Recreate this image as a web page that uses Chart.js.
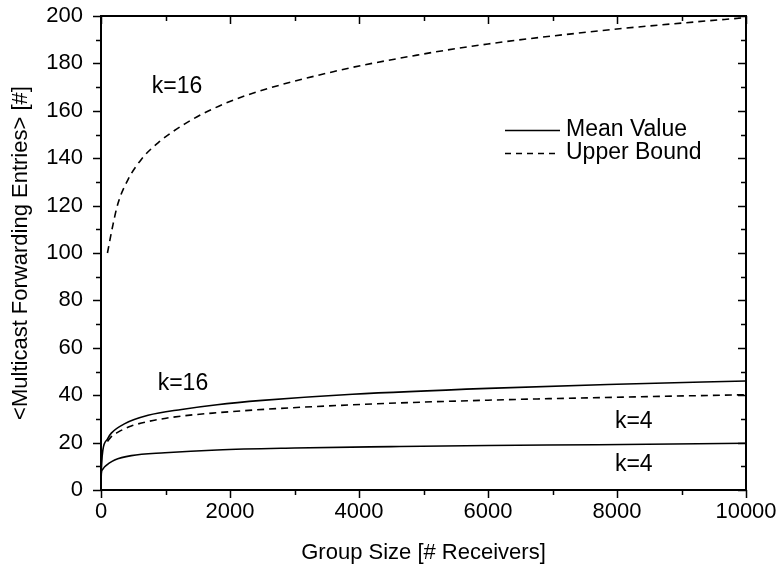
<!DOCTYPE html>
<html>
<head>
<meta charset="utf-8">
<script src="https://cdn.jsdelivr.net/npm/chart.js@4/dist/chart.umd.min.js"></script>
<style>
  html, body { margin: 0; padding: 0; background: #fff; }
  #wrap { width: 782px; height: 573px; }
</style>
</head>
<body>
<div id="wrap"><canvas id="fwdChart"></canvas></div>
<script>
// mean number of forwarding entries, k=16
const meanK16X = [0, 1, 10, 30, 100, 160, 370, 730, 1250, 1800, 2500, 3900, 6000, 8000, 10000];
const meanK16Y = [0, 3, 11, 17, 21.5, 24, 28, 31.5, 34, 36, 37.8, 40.4, 42.9, 44.6, 46];
// mean number of forwarding entries, k=4
const meanK4X = [0, 1, 5, 20, 57, 120, 212, 470, 990, 1800, 3000, 4500, 6000, 7700, 10000];
const meanK4Y = [0, 2, 7, 8.5, 9.8, 11.2, 12.7, 14.5, 15.7, 16.9, 17.7, 18.3, 18.8, 19.1, 19.7];
// upper bounds
const boundK16X = [100, 186, 264, 419, 625, 884, 1300, 1710, 2230, 3600, 4900, 6000, 8000, 9000, 10000];
const boundK16Y = [100, 112, 121, 131, 139.5, 146.5, 154.5, 160.5, 166.3, 176.5, 183.5, 188.2, 194.5, 197, 199.3];
const boundK4X = [100, 160, 264, 470, 990, 1800, 3860, 6000, 7940, 10000];
const boundK4Y = [20.5, 22.5, 24.4, 27, 30.2, 32.6, 35.9, 37.9, 39.1, 40.2];

const xTicks = [0, 2000, 4000, 6000, 8000, 10000];
const yTicks = [0, 20, 40, 60, 80, 100, 120, 140, 160, 180, 200];

// curve labels, in data coordinates
const curveLabels = [
  { text: 'k=16', x: 1180, y: 170 },
  { text: 'k=16', x: 1270, y: 45 },
  { text: 'k=4', x: 8260, y: 29 },
  { text: 'k=4', x: 8260, y: 10.5 }
];

const FONT = '"Liberation Sans", Arial, sans-serif';

function pts(xs, ys) {
  return xs.map((x, i) => ({ x: x, y: ys[i] }));
}

function line(label, xs, ys, dashed) {
  return {
    label: label,
    data: pts(xs, ys),
    borderColor: '#000',
    borderWidth: 1.6,
    borderDash: dashed ? [7, 5] : [],
    pointRadius: 0,
    fill: false,
    showLine: true,
    cubicInterpolationMode: 'monotone'
  };
}

// fixed axis box sizes, no extra room for overhanging labels
function fitX(s) {
  s.height = 83;
  s.paddingLeft = 0;
  s.paddingRight = 0;
}
function fitY(s) {
  s.width = 101;
  s.paddingTop = 0;
  s.paddingBottom = 0;
}

// frame, tick marks, curve labels and legend
const decorations = {
  id: 'decorations',
  afterDraw(chart) {
    const ctx = chart.ctx;
    const a = chart.chartArea;
    const xs = chart.scales.x;
    const ys = chart.scales.y;
    ctx.save();
    ctx.strokeStyle = '#000';
    ctx.lineWidth = 2;
    ctx.strokeRect(a.left, a.top, a.right - a.left, a.bottom - a.top);

    ctx.lineWidth = 1.5;
    ctx.beginPath();
    for (let v = 0; v <= 10000; v += 1000) {
      const px = Math.round(xs.getPixelForValue(v)) + 0.5;
      const len = v % 2000 === 0 ? 8 : 5;
      ctx.moveTo(px, a.bottom); ctx.lineTo(px, a.bottom + len);
      ctx.moveTo(px, a.top); ctx.lineTo(px, a.top + len);
    }
    for (let v = 0; v <= 200; v += 10) {
      const py = Math.round(ys.getPixelForValue(v)) + 0.5;
      const len = v % 20 === 0 ? 8 : 5;
      ctx.moveTo(a.left, py); ctx.lineTo(a.left - len, py);
      ctx.moveTo(a.right, py); ctx.lineTo(a.right - len, py);
    }
    ctx.stroke();

    ctx.fillStyle = '#000';
    ctx.font = '23px ' + FONT;
    ctx.textAlign = 'center';
    ctx.textBaseline = 'middle';
    curveLabels.forEach(l => {
      ctx.fillText(l.text, xs.getPixelForValue(l.x), ys.getPixelForValue(l.y));
    });

    // legend
    const items = [
      { text: 'Mean Value', dash: [] },
      { text: 'Upper Bound', dash: [6, 5] }
    ];
    ctx.textAlign = 'left';
    ctx.lineWidth = 1.4;
    items.forEach((it, i) => {
      const y = 130 + i * 23;
      ctx.setLineDash(it.dash);
      ctx.beginPath();
      ctx.moveTo(505, y + 0.5);
      ctx.lineTo(560, y + 0.5);
      ctx.stroke();
      ctx.setLineDash([]);
      ctx.fillText(it.text, 566, y);
    });
    ctx.restore();
  }
};

new Chart(document.getElementById('fwdChart'), {
  type: 'scatter',
  data: {
    datasets: [
      line('Mean Value k=16', meanK16X, meanK16Y, false),
      line('Mean Value k=4', meanK4X, meanK4Y, false),
      line('Upper Bound k=16', boundK16X, boundK16Y, true),
      line('Upper Bound k=4', boundK4X, boundK4Y, true)
    ]
  },
  options: {
    responsive: true,
    maintainAspectRatio: false,
    animation: false,
    layout: { autoPadding: false, padding: { top: 16, right: 36, left: 0, bottom: 0 } },
    plugins: {
      legend: { display: false },
      tooltip: { enabled: false }
    },
    scales: {
      x: {
        type: 'linear',
        min: 0,
        max: 10000,
        afterBuildTicks: s => { s.ticks = xTicks.map(v => ({ value: v })); },
        afterFit: fitX,
        grid: { display: false, drawTicks: false },
        border: { display: false },
        ticks: {
          color: '#000',
          font: { family: FONT, size: 22 },
          padding: 9,
          maxRotation: 0,
          callback: v => String(v)
        },
        title: {
          display: true,
          text: 'Group Size [# Receivers]',
          color: '#000',
          font: { family: FONT, size: 22 },
          padding: { top: 0, bottom: 7 }
        }
      },
      y: {
        min: 0,
        max: 200,
        afterBuildTicks: s => { s.ticks = yTicks.map(v => ({ value: v })); },
        afterFit: fitY,
        grid: { display: false, drawTicks: false },
        border: { display: false },
        ticks: {
          color: '#000',
          font: { family: FONT, size: 22 },
          padding: 18,
          callback: v => String(v)
        },
        title: {
          display: true,
          text: '<Multicast Forwarding Entries> [#]',
          color: '#000',
          font: { family: FONT, size: 22 },
          padding: { top: 8, bottom: 0 }
        }
      }
    }
  },
  plugins: [decorations]
});
</script>
</body>
</html>
